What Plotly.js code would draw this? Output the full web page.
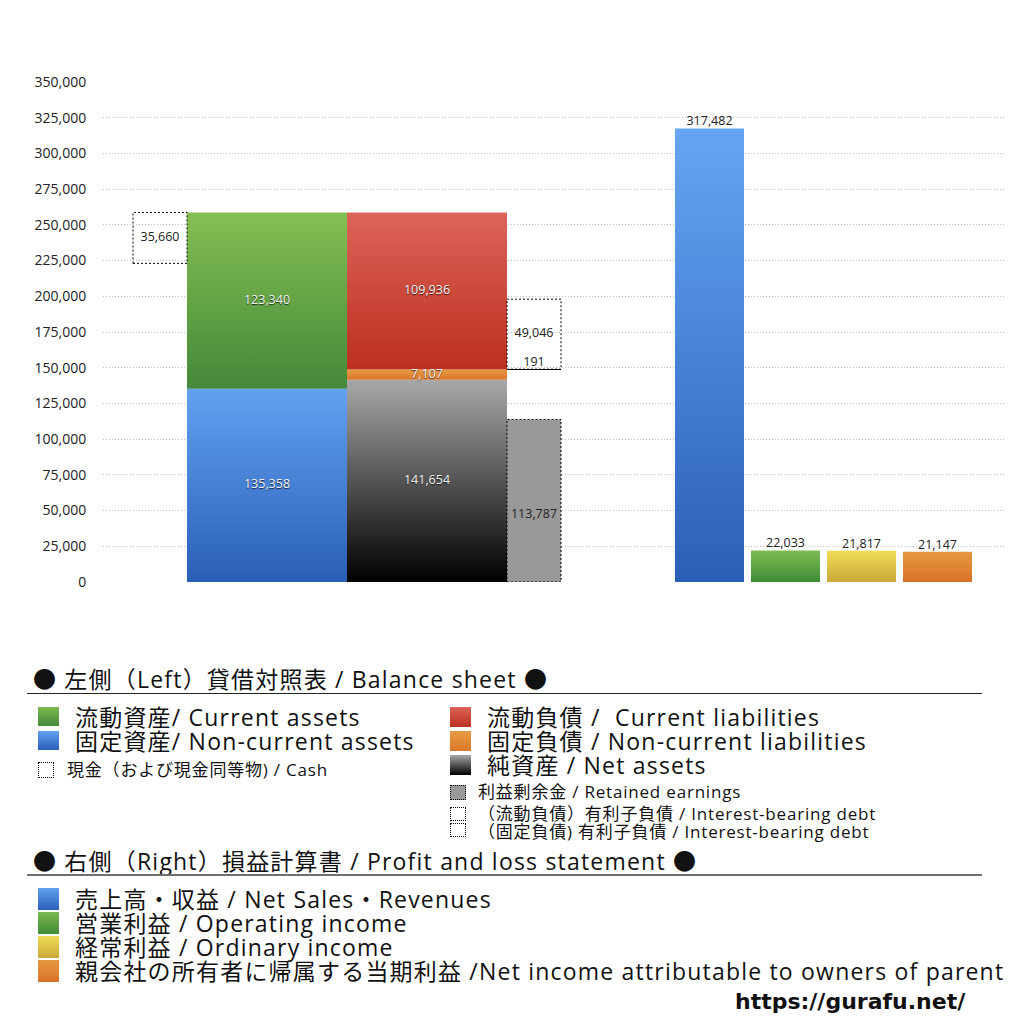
<!DOCTYPE html>
<html>
<head>
<meta charset="utf-8">
<script src="https://cdn.plot.ly/plotly-3.0.1.min.js"></script>
<style>
  body { margin: 0; background: #fff; }
  #page { position: relative; width: 1024px; height: 1024px; overflow: hidden;
          font-family: 'Open Sans', 'Noto Sans CJK JP', sans-serif; color: #111; }
  #chart { position: absolute; left: 0; top: 0; width: 1024px; height: 600px; }
  .t { position: absolute; white-space: nowrap; }
  .big { font-size: 23px; line-height: 24px; letter-spacing: 1.2px; }
  .small { font-size: 17px; letter-spacing: 0.8px; }
  .sw { position: absolute; box-sizing: border-box; }
  .rule { position: absolute; left: 27px; width: 955px; height: 0; }
</style>
</head>
<body>
<div id="page">
  <div id="chart"></div>

  <!-- balance sheet legend -->
  <div class="t big" style="left:33px;top:667px;">● 左側（Left）貸借対照表 / Balance sheet ●</div>
  <div class="rule" style="top:693px;border-top:1px solid #222;"></div>

  <div class="sw" style="left:38px;top:707px;width:21px;height:19px;background:linear-gradient(#7cb94f,#44893a);"></div>
  <div class="sw" style="left:38px;top:731px;width:21px;height:19px;background:linear-gradient(#62a1f0,#2a5fb8);"></div>
  <div class="t big" style="left:75px;top:705px;">流動資産/ Current assets<br>固定資産/ Non-current assets</div>
  <div class="sw" style="left:38px;top:762px;width:16px;height:16px;border:1px dotted #000;"></div>
  <div class="t small" style="left:67px;top:760px;line-height:20px;">現金（および現金同等物) / Cash</div>

  <div class="sw" style="left:450px;top:707px;width:21px;height:20px;background:linear-gradient(#dc6358,#bc3020);"></div>
  <div class="sw" style="left:450px;top:731px;width:21px;height:20px;background:linear-gradient(#e99a45,#d9782a);"></div>
  <div class="sw" style="left:450px;top:755px;width:21px;height:20px;background:linear-gradient(#a8a8a8,#000);"></div>
  <div class="t big" style="left:487px;top:705px;">流動負債 /&nbsp; Current liabilities<br>固定負債 / Non-current liabilities<br>純資産 / Net assets</div>

  <div class="sw" style="left:450px;top:785px;width:16px;height:15px;border:1px dotted #000;background:#999;"></div>
  <div class="t small" style="left:478px;top:782px;line-height:20px;">利益剰余金 / Retained earnings</div>
  <div class="sw" style="left:450px;top:807px;width:16px;height:14px;border:1px dotted #000;"></div>
  <div class="sw" style="left:450px;top:823px;width:16px;height:14px;border:1px dotted #000;"></div>
  <div class="t small" style="left:478px;top:805px;line-height:18px;">（流動負債）有利子負債 / Interest-bearing debt<br>（固定負債) 有利子負債 / Interest-bearing debt</div>

  <!-- profit and loss legend -->
  <div class="t big" style="left:33px;top:849px;">● 右側（Right）損益計算書 / Profit and loss statement ●</div>
  <div class="rule" style="top:874px;border-top:2px solid #6f6f6f;"></div>

  <div class="sw" style="left:38px;top:888px;width:21px;height:22px;background:linear-gradient(#62a1f0,#2a5fb8);"></div>
  <div class="sw" style="left:38px;top:912px;width:21px;height:22px;background:linear-gradient(#7cb94f,#3f8a38);"></div>
  <div class="sw" style="left:38px;top:936px;width:21px;height:22px;background:linear-gradient(#f2dc54,#c9a83a);"></div>
  <div class="sw" style="left:38px;top:960px;width:21px;height:22px;background:linear-gradient(#e6983e,#d9722c);"></div>
  <div class="t big" style="left:75px;top:887px;">売上高・収益 / Net Sales・Revenues<br>営業利益 / Operating income<br>経常利益 / Ordinary income<br>親会社の所有者に帰属する当期利益 /Net income attributable to owners of parent</div>

  <div class="t" style="left:735px;top:989px;font-size:22px;line-height:26px;font-weight:bold;font-family:'DejaVu Sans','Open Sans',sans-serif;">https://gurafu.net/</div>
</div>

<script>
// balance sheet (left), stacked bottom -> top
const assetNames = ['固定資産', '流動資産'];
const assetValues = [135358, 123340];
const liabilityNames = ['純資産', '固定負債', '流動負債'];
const liabilityValues = [141654, 7107, 109936];
const cashValue = 35660;
const retainedEarnings = 113787;
const debtNames = ['（固定負債）有利子負債', '（流動負債）有利子負債'];
const debtValues = [191, 49046];

// profit and loss (right)
const plNames = ['売上高・収益', '営業利益', '経常利益', '親会社の所有者に帰属する当期利益'];
const plValues = [317482, 22033, 21817, 21147];

// y tick values
const yTicks = [0, 25000, 50000, 75000, 100000, 125000, 150000, 175000, 200000, 225000, 250000, 275000, 300000, 325000, 350000];

// styling
const assetGrad = [['#2a5fb8', '#62a1f0'], ['#44893a', '#84bf53']];
const liabGrad = [['#000000', '#a8a8a8'], ['#d9782a', '#e99a45'], ['#bc3020', '#dc6358']];
const plGrad = [['#2a5fb8', '#66a5f2'], ['#3f8a38', '#7ebd52'], ['#c9a83a', '#f2dc54'], ['#d9722c', '#e6983e']];

// horizontal slots on a hidden x axis (units = px of the plot)
const slot = {
    cash: [133, 187],
    assets: [187, 347],
    liabilities: [347, 507],
    side: [507, 561],
    pl: [[675, 744], [751, 820], [827, 896], [903, 972]]
};

const fmt = v => v.toLocaleString('en-US');

function rect(xr, y0, y1, opts) {
    const t = {
        type: 'scatter',
        x: [xr[0], xr[1], xr[1], xr[0], xr[0]],
        y: [y0, y0, y1, y1, y0],
        mode: 'lines',
        fill: 'toself',
        hoverinfo: 'skip',
        showlegend: false,
        line: opts.line || { width: 0, color: 'rgba(0,0,0,0)' }
    };
    if (opts.grad) {
        t.fillgradient = { type: 'vertical', colorscale: [[0, opts.grad[0]], [1, opts.grad[1]]] };
    } else {
        t.fillcolor = opts.fill || 'rgba(0,0,0,0)';
    }
    return t;
}

const dotted = { width: 1, color: '#000', dash: '2px,2px' };
const traces = [];
const inLabels = { x: [], y: [], text: [] };
const darkLabels = { x: [], y: [], text: [], pos: [] };
const mid = r => (r[0] + r[1]) / 2;

// assets
let base = 0;
assetValues.forEach((v, i) => {
    traces.push(rect(slot.assets, base, base + v, { grad: assetGrad[i] }));
    inLabels.x.push(mid(slot.assets)); inLabels.y.push(base + v / 2); inLabels.text.push(fmt(v));
    base += v;
});
const assetTotal = base;

// cash box at the top of assets
traces.push(rect(slot.cash, assetTotal - cashValue, assetTotal, { line: dotted }));
darkLabels.x.push(mid(slot.cash)); darkLabels.y.push(assetTotal - cashValue / 2);
darkLabels.text.push(fmt(cashValue)); darkLabels.pos.push('middle center');

// liabilities + net assets
base = 0;
liabilityValues.forEach((v, i) => {
    traces.push(rect(slot.liabilities, base, base + v, { grad: liabGrad[i] }));
    inLabels.x.push(mid(slot.liabilities)); inLabels.y.push(base + v / 2); inLabels.text.push(fmt(v));
    base += v;
});

// retained earnings
traces.push(rect(slot.side, 0, retainedEarnings, { fill: '#999999', line: dotted }));
darkLabels.x.push(mid(slot.side)); darkLabels.y.push(retainedEarnings * 0.41);
darkLabels.text.push(fmt(retainedEarnings)); darkLabels.pos.push('middle center');

// interest-bearing debt, on top of net assets + non-current liabilities
base = liabilityValues[0] + liabilityValues[1];
debtValues.forEach((v, i) => {
    traces.push(rect(slot.side, base, base + v, { line: dotted }));
    darkLabels.x.push(mid(slot.side));
    darkLabels.y.push(i === 0 ? base + v : base + v / 2);
    darkLabels.text.push(fmt(v));
    darkLabels.pos.push(i === 0 ? 'top center' : 'middle center');
    base += v;
});

// profit and loss bars
plValues.forEach((v, i) => {
    traces.push(rect(slot.pl[i], 0, v, { grad: plGrad[i] }));
    darkLabels.x.push(mid(slot.pl[i])); darkLabels.y.push(v);
    darkLabels.text.push(fmt(v)); darkLabels.pos.push('top center');
});

traces.push({
    type: 'scatter', mode: 'text', x: inLabels.x, y: inLabels.y, text: inLabels.text,
    textposition: 'middle center', hoverinfo: 'skip', showlegend: false,
    textfont: { size: 12.5, color: '#f4f4f4', shadow: '0px 1px 1px rgba(0,0,0,0.7)' }
});
traces.push({
    type: 'scatter', mode: 'text', x: darkLabels.x, y: darkLabels.y, text: darkLabels.text,
    textposition: darkLabels.pos, hoverinfo: 'skip', showlegend: false,
    textfont: { size: 12.5, color: '#222' }
});

const layout = {
    width: 1024,
    height: 600,
    margin: { t: 82, b: 18, l: 103, r: 19 },
    paper_bgcolor: '#fff',
    plot_bgcolor: '#fff',
    font: { family: "'Open Sans', 'Noto Sans CJK JP', sans-serif", size: 13, color: '#222' },
    showlegend: false,
    xaxis: { range: [103, 1005], visible: false, fixedrange: true },
    yaxis: {
        range: [0, 350000],
        tickvals: yTicks,
        tickformat: ',d',
        showgrid: true,
        gridcolor: '#bdbdbd',
        griddash: '1px,2px',
        gridwidth: 1,
        zeroline: false,
        showline: false,
        ticks: 'outside',
        ticklen: 13,
        tickcolor: 'rgba(0,0,0,0)',
        tickfont: { size: 14, color: '#222' },
        fixedrange: true
    }
};

Plotly.newPlot('chart', traces, layout, { displayModeBar: false, staticPlot: true });
</script>
</body>
</html>
